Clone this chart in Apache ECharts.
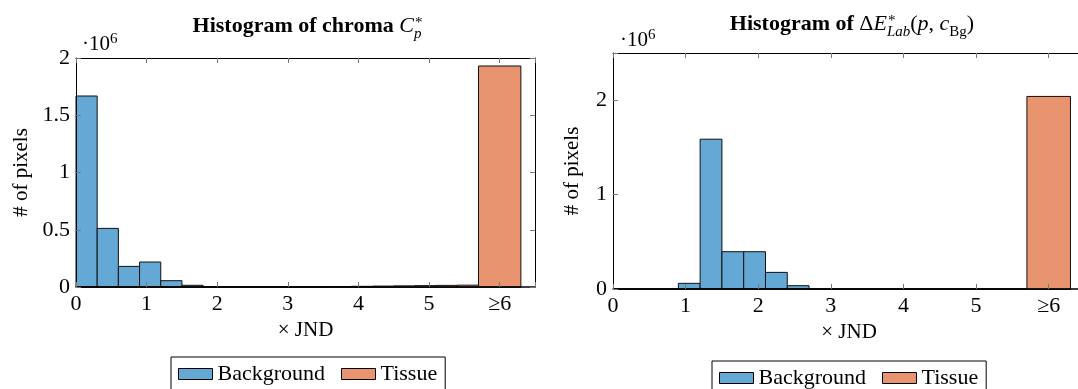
<!DOCTYPE html>
<html><head><meta charset="utf-8">
<script src="https://cdn.jsdelivr.net/npm/echarts@6/dist/echarts.min.js"></script>
<style>html,body{margin:0;padding:0;background:#fff;overflow:hidden;width:1078px;height:389px}#c{width:1100px;height:389px}</style>
</head><body><div id="c"></div>
<script>
// ---- data (values in units of 10^6 pixels) ----
const binEdges = [0,0.3,0.6,0.9,1.2,1.5,1.8,2.1,2.4,2.7,3.0,3.3,3.6,3.9,4.2,4.5,4.8,5.1,5.4,5.7,6.3];
const chromaBackground = [1.668,0.512,0.180,0.218,0.055,0.015,0.003,0,0,0,0,0,0,0,0,0,0,0,0,0];
const chromaTissue     = [0,0,0,0,0,0,0,0,0,0,0,0.002,0.004,0.006,0.008,0.010,0.012,0.014,0.016,1.930];
const deltaBackground  = [0,0,0,0.060,1.587,0.395,0.395,0.176,0.035,0,0,0,0,0,0,0,0,0,0,0];
const deltaTissue      = [0,0,0,0,0,0,0,0,0,0,0,0,0,0,0,0,0,0,0,2.040];
const xTickLabels = ['0','1','2','3','4','5','≥6'];
const chromaYTicks = [0,0.5,1,1.5,2];
const deltaYTicks = [0,1,2];
const seriesNames = ['Background','Tissue'];

const FONT = '"Liberation Serif", "Times New Roman", serif';
const BLUE = '#64a9d6', ORANGE = '#e8956f';
const FS = 21;

const chart = echarts.init(document.getElementById('c'), null, {renderer:'canvas', width:1100, height:389});

function bars(vals, color, gi, name) {
  const data = vals.map((v,i)=>[binEdges[i], binEdges[i+1], v]);
  return {type:'custom', name, xAxisIndex:gi*2, yAxisIndex:gi*2, data, encode:{x:[0,1], y:2},
    itemStyle:{color, borderColor:'#000', borderWidth:1}, z:2,
    renderItem(params, api){
      const a = api.coord([api.value(0), api.value(2)]);
      const b = api.coord([api.value(1), 0]);
      return {type:'rect', shape:{x:a[0], y:a[1], width:b[0]-a[0], height:b[1]-a[1]},
        style:{fill:color, stroke:'#111', lineWidth:1}};
    }};
}

const tickStyle = {show:true, inside:true, length:5, lineStyle:{color:'#777', width:1}};
const lineStyle = {show:true, onZero:false, lineStyle:{color:'#000', width:1}};
const txt = {fontFamily:FONT, fontSize:FS, color:'#000'};
const tickTxt = {fontFamily:FONT, fontSize:22, color:'#000'};

function xAxes(gi, nameGap){
  return [
    {type:'value', gridIndex:gi, min:0, max:6.5, interval:1, position:'bottom', z:5,
     axisLine:{show:true, onZero:false, lineStyle:{color:'#000', width:1.5}}, axisTick:tickStyle, splitLine:{show:false},
     axisLabel:Object.assign({margin:6, formatter:v=>Number.isInteger(v)&&xTickLabels[v]!==undefined?xTickLabels[v]:''}, tickTxt),
     name:'× JND', nameLocation:'middle', nameGap, nameTextStyle:txt},
    {type:'value', gridIndex:gi, min:0, max:6.5, interval:1, position:'top', z:5,
     axisLine:lineStyle, axisTick:tickStyle, splitLine:{show:false}, axisLabel:{show:false}}
  ];
}
function yAxes(gi, max, interval, ticks, nameGap){
  return [
    {type:'value', gridIndex:gi, min:0, max, interval, position:'left', z:5,
     axisLine:lineStyle, axisTick:tickStyle, splitLine:{show:false},
     axisLabel:Object.assign({margin:6, formatter:v=>ticks.includes(v)?String(v):''}, tickTxt),
     name:'# of pixels', nameLocation:'middle', nameGap, nameTextStyle:txt},
    {type:'value', gridIndex:gi, min:0, max, interval, position:'right', z:5,
     axisLine:lineStyle, axisTick:tickStyle, splitLine:{show:false}, axisLabel:{show:false}}
  ];
}

// math-like text pieces
const mctx = document.createElement('canvas').getContext('2d');
function fontStr(p){ return `${p.it?'italic ':''}${p.b?'bold ':''}${p.s}px ${FONT}`; }
function measure(p){ mctx.font = fontStr(p); return mctx.measureText(p.t).width; }
function mathText(parts, x0, baseline, centered){
  const widths = parts.map(p => p.stack ? Math.max(...p.stack.map(measure)) : measure(p));
  const total = widths.reduce((a,b)=>a+b,0);
  let x = centered ? x0 - total/2 : x0;
  const els = [];
  parts.forEach((p,i)=>{
    (p.stack || [p]).forEach(q=>{
      els.push({type:'text', x:x+(q.dx||0), y:baseline - 0.34*q.s + (q.dy||0), z:10,
        style:{text:q.t, fontFamily:FONT, fontSize:q.s, fontWeight:q.b?'bold':'normal',
               fontStyle:q.it?'italic':'normal', fill:'#000', align:'left', verticalAlign:'middle'}});
    });
    x += widths[i];
  });
  return els;
}

const TS = 22;
const graphics = [].concat(
  mathText([{t:'Histogram of chroma ', s:TS, b:true}, {t:'C', s:TS, it:true},
            {stack:[{t:'*', s:15, dy:-6, dx:1}, {t:'p', s:15, it:true, dy:5}]}], 307, 34, true),
  mathText([{t:'Histogram of ', s:TS, b:true}, {t:'Δ', s:TS}, {t:'E', s:TS, it:true},
            {stack:[{t:'*', s:15, dy:-6, dx:1}, {t:'Lab', s:15, it:true, dy:5}]},
            {t:'(', s:TS}, {t:'p', s:TS, it:true}, {t:', ', s:TS}, {t:'c', s:TS, it:true},
            {t:'Bg', s:15, dy:5}, {t:')', s:TS}], 852, 32, true),
  mathText([{t:'·10', s:FS}, {t:'6', s:15, dy:-8}], 82, 52, false),
  mathText([{t:'·10', s:FS}, {t:'6', s:15, dy:-8}], 620, 48, false)
);

function legend(left, top){
  return {left, top, orient:'horizontal', selectedMode:false, itemWidth:34, itemHeight:11, itemGap:16,
    padding:[6,8,6,7], borderColor:'#000', borderWidth:1, backgroundColor:'#fff',
    textStyle:Object.assign({}, txt, {fontSize:22}),
    data:[{name:seriesNames[0], icon:'rect', itemStyle:{color:BLUE, borderColor:'#000', borderWidth:1}},
          {name:seriesNames[1], icon:'rect', itemStyle:{color:ORANGE, borderColor:'#000', borderWidth:1}}]};
}

chart.setOption({
  animation:false,
  grid:[{left:76, top:58, width:459, height:229},
        {left:613, top:53, width:472, height:236}],
  xAxis:[].concat(xAxes(0, 29), xAxes(1, 33)),
  yAxis:[].concat(yAxes(0, 2, 0.5, chromaYTicks, 44), yAxes(1, 2.5, 1, deltaYTicks, 30)),
  legend:[legend(171, 357), legend(712, 361)],
  graphic:graphics,
  series:[
    bars(chromaBackground, BLUE, 0, seriesNames[0]),
    bars(chromaTissue, ORANGE, 0, seriesNames[1]),
    bars(deltaBackground, BLUE, 1, seriesNames[0]),
    bars(deltaTissue, ORANGE, 1, seriesNames[1])
  ]
});
</script></body></html>
